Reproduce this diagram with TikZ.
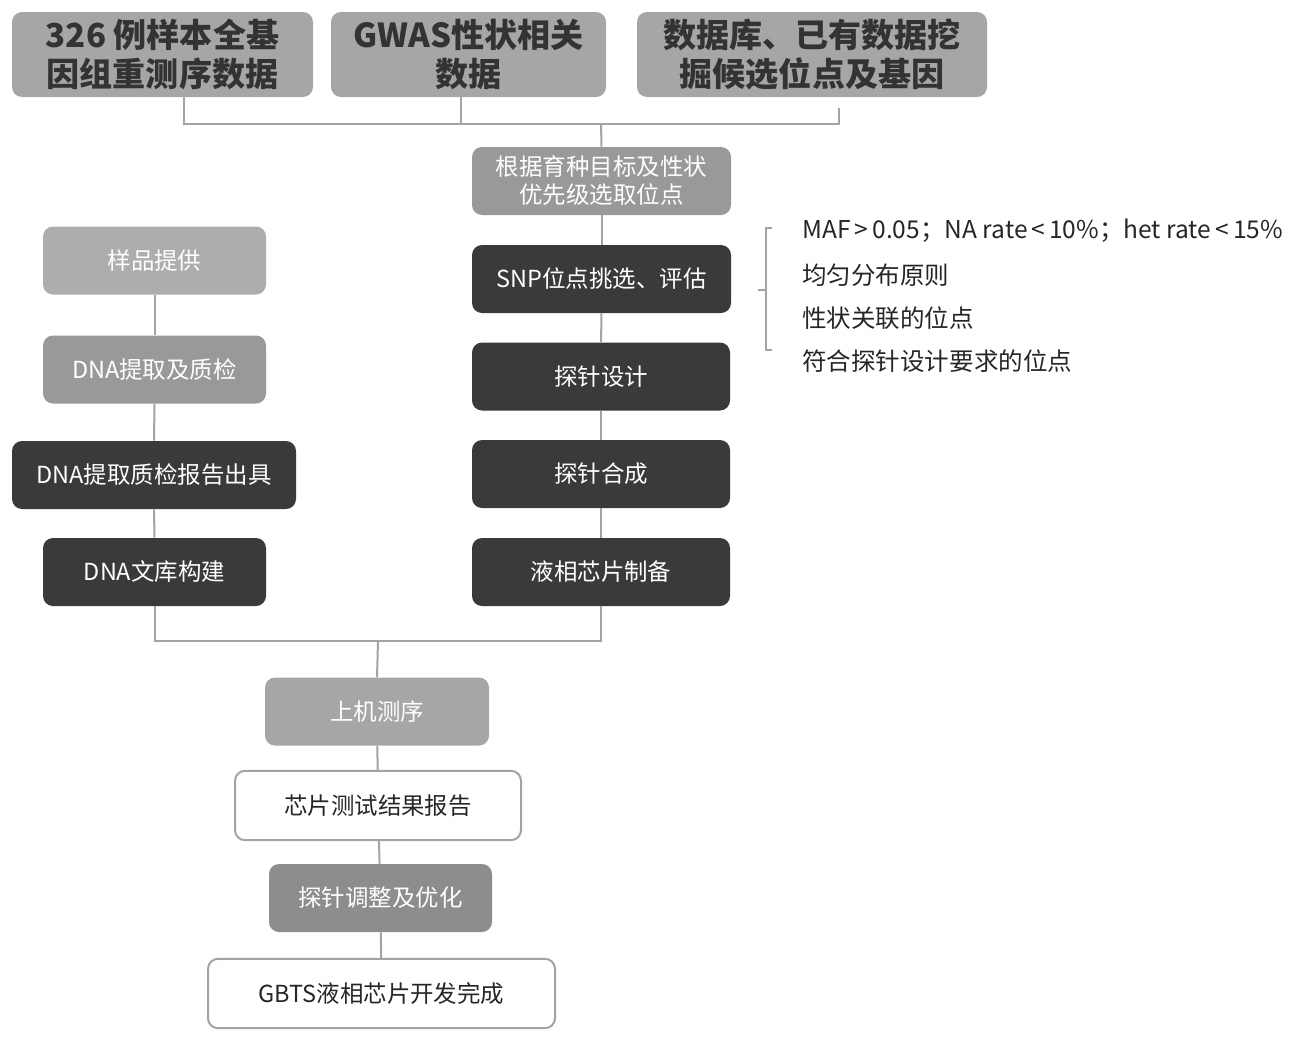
\documentclass[tikz,border=0pt]{standalone}
\usepackage{fontspec}
\setmainfont{Noto Sans CJK SC}
\usepackage{tikz}
\usetikzlibrary{positioning,calc}

\definecolor{linegray}{HTML}{A3A3A3}
\definecolor{topgray}{HTML}{A6A6A6}
\definecolor{midgray}{HTML}{999999}
\definecolor{lightgray}{HTML}{ADADAD}
\definecolor{darkbox}{HTML}{3A3A3A}

\begin{document}
\begin{tikzpicture}[
  x=0.75pt, y=-0.75pt,
  font=\fontsize{17.6pt}{21pt}\selectfont,
  base/.style={rectangle, rounded corners=7.5pt, align=center, inner sep=2pt,
               minimum height=51pt},
  srcbox/.style={base, fill=topgray, text=black!80, minimum height=63.75pt,
                 font=\fontsize{24.8pt}{29pt}\selectfont\bfseries},
  greybox/.style={base, fill=midgray, text=white},
  lightbox/.style={base, fill=lightgray, text=white},
  darkstep/.style={base, fill=darkbox, text=white},
  outbox/.style={base, fill=white, draw=linegray, line width=1.5pt, text=black!85,
                 minimum height=52pt},
  crit/.style={anchor=west, inner sep=0pt, text=black!85,
               font=\fontsize{18.4pt}{21pt}\selectfont},
  link/.style={draw=linegray, line width=1.5pt},
]
\useasboundingbox (0,0) rectangle (1292,1042);

% Row 1: data sources
\node[srcbox, minimum width=225.75pt] (wgs) at (162.5,54.5) {326 例样本全基\\因组重测序数据};
\node[srcbox, minimum width=206.25pt] (gwas) at (468.5,54.5) {GWAS性状相关\\数据};
\node[srcbox, minimum width=262.5pt] (dbmine) at (812,54.5) {数据库、已有数据挖\\掘候选位点及基因};

% Right column: probe / chip
\node[greybox, minimum width=194.25pt] (prio) at (601.5,181) {根据育种目标及性状\\优先级选取位点};
\node[darkstep, minimum width=194.25pt] (snp) at (601.5,279) {SNP位点挑选、评估};
\node[darkstep, minimum width=193.5pt] (design) at (601,376.5) {探针设计};
\node[darkstep, minimum width=193.5pt] (synth) at (601,474) {探针合成};
\node[darkstep, minimum width=193.5pt] (chip) at (601,572) {液相芯片制备};

% Left column: samples / library
\node[lightbox, minimum width=167.25pt] (sample) at (154.5,260.5) {样品提供};
\node[greybox, minimum width=167.25pt] (dnaqc) at (154.5,369.5) {DNA提取及质检};
\node[darkstep, minimum width=213pt] (dnarep) at (154,475) {DNA提取质检报告出具};
\node[darkstep, minimum width=167.25pt] (lib) at (154.5,572) {DNA文库构建};

% Bottom chain
\node[lightbox, fill=topgray, minimum width=168pt] (seq) at (377,711.5) {上机测序};
\node[outbox, minimum width=214.5pt] (report) at (378,805.5) {芯片测试结果报告};
\node[greybox, fill=midgray!92!black, minimum width=167.25pt] (adjust) at (380.5,898) {探针调整及优化};
\node[outbox, minimum width=260.25pt] (gbts) at (381.5,993.5) {GBTS液相芯片开发完成};

% SNP criteria
\node[crit] (c1) at (802,231) {MAF\,>\,0.05；NA rate\,<\,10\%；het rate\,<\,15\%};
\node[crit] (c2) at (802,275) {均匀分布原则};
\node[crit] (c3) at (802,318) {性状关联的位点};
\node[crit] (c4) at (802,361) {符合探针设计要求的位点};

\coordinate (jtop) at (601,124);
\coordinate (jbot) at (378,641);

\draw[link] ($(wgs.south)+(21,0)$) |- ($(dbmine.south |- jtop)+(27,0)$) -- ++(0,-16);
\draw[link] ($(gwas.south)+(-8,0)$) -- ($(gwas.south |- jtop)+(-8,0)$);
\draw[link] (jtop) -- (prio.north);
\draw[link] (prio) -- (snp);
\draw[link] (snp) -- (design);
\draw[link] (design) -- (synth);
\draw[link] (synth) -- (chip);
\draw[link] (sample) -- (dnaqc);
\draw[link] (dnaqc) -- (dnarep);
\draw[link] (dnarep) -- (lib);
\draw[link] (lib.south) |- (jbot);
\draw[link] (chip.south) |- (jbot);
\draw[link] (jbot) -- (seq.north);
\draw[link] (seq) -- (report);
\draw[link] (report) -- (adjust);
\draw[link] (adjust) -- (gbts);

% bracket round the criteria
\draw[draw=linegray, line width=0.8pt] (772,228) -- (766,228) -- (766,350) -- (772,350);
\draw[draw=linegray, line width=0.8pt] (766,290) -- (758,290);
\end{tikzpicture}
\end{document}
